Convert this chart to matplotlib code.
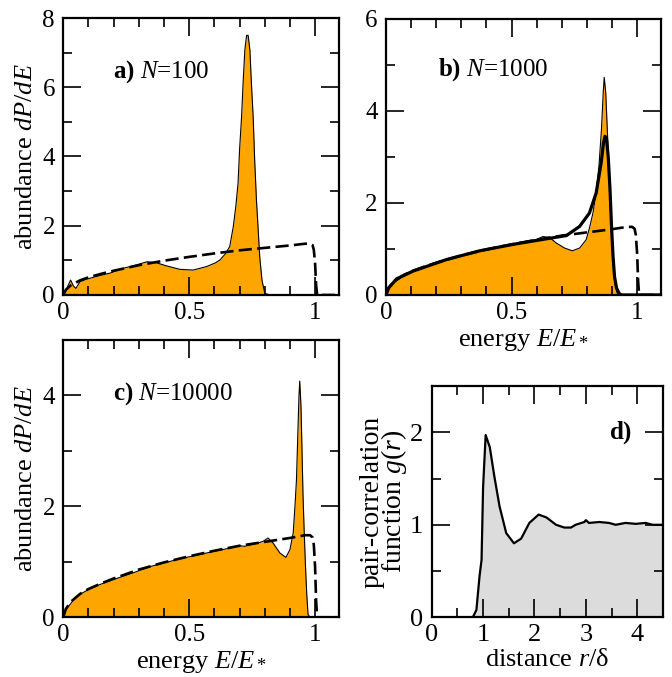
import numpy as np
import matplotlib
matplotlib.use("Agg")
import matplotlib.pyplot as plt
from matplotlib.ticker import MultipleLocator

plt.rcParams['font.family'] = ['Liberation Serif', 'DejaVu Serif']
plt.rcParams['mathtext.fontset'] = 'custom'
plt.rcParams['mathtext.rm'] = 'Liberation Serif'
plt.rcParams['mathtext.it'] = 'Liberation Serif:italic'
plt.rcParams['mathtext.bf'] = 'Liberation Serif:bold'

# theory curve (dashed), same in panels a-c
E_theory = [0, 0.01, 0.03, 0.066, 0.1, 0.15, 0.2, 0.25, 0.3, 0.4, 0.5, 0.6, 0.7,
            0.8, 0.9, 0.96, 0.98, 0.99, 0.995, 1.0, 1.004, 1.008, 1.1]
P_theory = [0, 0.15, 0.28, 0.42, 0.51, 0.61, 0.7, 0.78, 0.86, 0.99, 1.1, 1.2, 1.29,
            1.36, 1.43, 1.48, 1.48, 1.44, 1.3, 0.9, 0.3, 0, 0]

# a) N=100
E_a = [0, 0.01, 0.02, 0.029, 0.04, 0.05, 0.066, 0.09, 0.119, 0.15, 0.185, 0.238,
       0.291, 0.333, 0.37, 0.41, 0.463, 0.516, 0.569, 0.605, 0.622, 0.645, 0.661,
       0.675, 0.685, 0.694, 0.7, 0.708, 0.714, 0.721, 0.728, 0.734, 0.741, 0.747,
       0.754, 0.76, 0.767, 0.774, 0.78, 0.789, 0.8, 0.82, 1.1]
P_a = [0, 0.12, 0.29, 0.43, 0.26, 0.19, 0.38, 0.45, 0.51, 0.57, 0.63, 0.77,
       0.87, 0.96, 0.93, 0.84, 0.74, 0.72, 0.82, 0.93, 1.01, 1.2, 1.4,
       1.97, 2.55, 3.23, 4.19, 5.15, 6.12, 7.08, 7.5, 7.5, 7.08, 6.12,
       5.15, 3.9, 2.75, 1.88, 1.11, 0.43, 0.05, 0, 0]

# b) N=1000
E_b = [0, 0.01, 0.03, 0.066, 0.108, 0.2, 0.3, 0.4, 0.5, 0.6, 0.625, 0.651, 0.678,
       0.711, 0.742, 0.771, 0.797, 0.81, 0.824, 0.836, 0.848, 0.858, 0.865, 0.869,
       0.875, 0.882, 0.889, 0.896, 0.903, 0.91, 0.92, 0.93, 1.1]
P_b = [0, 0.14, 0.26, 0.4, 0.52, 0.7, 0.86, 0.99, 1.1, 1.21, 1.27, 1.25, 1.13,
       1.02, 0.96, 1.02, 1.2, 1.45, 1.78, 2.2, 2.8, 3.6, 4.4, 4.73,
       4.4, 3.5, 2.5, 1.5, 0.8, 0.3, 0.05, 0, 0]
E_b_line = [0, 0.01, 0.042, 0.108, 0.241, 0.373, 0.506, 0.638, 0.718, 0.771, 0.81,
            0.837, 0.857, 0.866, 0.872, 0.878, 0.885, 0.892, 0.898, 0.904, 0.91,
            0.918, 0.93, 0.94, 1.1]
P_b_line = [0, 0.15, 0.35, 0.52, 0.77, 0.96, 1.1, 1.22, 1.29, 1.49, 1.78,
            2.22, 2.88, 3.3, 3.45, 3.4, 3.0, 2.3, 1.5, 0.85, 0.4,
            0.15, 0.02, 0, 0]

# c) N=10000
E_c = [0, 0.005, 0.013, 0.03, 0.053, 0.1, 0.145, 0.2, 0.276, 0.35, 0.408, 0.48,
       0.54, 0.6, 0.675, 0.701, 0.72, 0.76, 0.794, 0.813, 0.833, 0.86, 0.884, 0.9,
       0.913, 0.92, 0.926, 0.932, 0.936, 0.939, 0.944, 0.948, 0.952, 0.957, 0.962,
       0.967, 0.972, 0.98, 1.1]
P_c = [0, 0.08, 0.15, 0.25, 0.38, 0.5, 0.59, 0.68, 0.8, 0.92, 0.99, 1.07,
       1.13, 1.19, 1.26, 1.29, 1.28, 1.32, 1.37, 1.43, 1.34, 1.16, 1.08, 1.22,
       1.52, 2.0, 2.48, 3.4, 4.0, 4.26, 3.8, 3.0, 2.2, 1.5, 0.9,
       0.4, 0.05, 0, 0]

# d) pair correlation
r_d = [0, 0.8, 0.87, 0.93, 0.97, 1.0, 1.05, 1.13, 1.22, 1.32, 1.45, 1.6, 1.74,
       1.9, 2.08, 2.23, 2.42, 2.58, 2.71, 2.8, 2.97, 3.0, 3.06, 3.26, 3.45,
       3.58, 3.77, 3.97, 4.16, 4.3, 4.45, 4.5]
g_d = [0, 0, 0.08, 0.44, 0.62, 1.41, 1.97, 1.84, 1.52, 1.2, 0.91, 0.8, 0.85,
       1.02, 1.11, 1.08, 1.0, 0.97, 0.97, 1.0, 1.03, 1.05, 1.02, 1.03, 1.02,
       1.0, 1.02, 1.01, 1.02, 1.0, 1.0, 1.0]

ORANGE = '#FFA500'
TICK_FS = 18
LABEL_FS = 19
DASH = (0, (5, 2))

fig = plt.figure(figsize=(6.72, 6.77), dpi=100)
ax_a = fig.add_axes([0.0942, 0.5643, 0.4103, 0.4091])
ax_b = fig.add_axes([0.5744, 0.5643, 0.4092, 0.4077])
ax_c = fig.add_axes([0.0942, 0.0882, 0.4103, 0.4096])
ax_d = fig.add_axes([0.6424, 0.0882, 0.3442, 0.3416])


def style(ax, xmaj, xmin, ymaj, ymin, fs=TICK_FS):
    ax.xaxis.set_major_locator(MultipleLocator(xmaj))
    ax.xaxis.set_minor_locator(MultipleLocator(xmin))
    ax.yaxis.set_major_locator(MultipleLocator(ymaj))
    ax.yaxis.set_minor_locator(MultipleLocator(ymin))
    ax.tick_params(which='both', direction='in', top=True, right=True,
                   width=1.2, labelsize=fs)
    ax.tick_params(which='major', length=13)
    ax.tick_params(which='minor', length=6.5)
    ax.tick_params(axis='x', pad=5)
    ax.tick_params(axis='y', pad=6)
    for s in ax.spines.values():
        s.set_linewidth(1.6)


def fmt(v, pos):
    return '%g' % v


for ax in (ax_a, ax_b, ax_c):
    ax.set_xlim(0, 1.095)
    style(ax, 0.5, 0.1, 2, 1)
    ax.xaxis.set_major_formatter(fmt)

# panel a
ax_a.fill_between(E_a, P_a, 0, color=ORANGE, lw=0)
ax_a.plot(E_a, P_a, color='black', lw=0.8)
ax_a.plot(E_theory, P_theory, color='black', lw=1.9, ls=DASH)
ax_a.set_ylim(0, 8)
ax_a.set_ylabel(r'abundance $dP/dE$', fontsize=LABEL_FS, labelpad=4)
ax_a.text(0.18, 0.805, r'$\mathbf{a)}$ $N$=100', transform=ax_a.transAxes,
          fontsize=TICK_FS, va='center', ha='left')

# panel b
ax_b.fill_between(E_b, P_b, 0, color=ORANGE, lw=0)
ax_b.plot(E_b, P_b, color='black', lw=0.8)
ax_b.plot(E_theory, P_theory, color='black', lw=1.9, ls=DASH)
ax_b.plot(E_b_line, P_b_line, color='black', lw=2.3)
ax_b.set_ylim(0, 6)
ax_b.set_xlabel(r'energy $E/E_*$', fontsize=LABEL_FS, labelpad=2)
ax_b.text(0.188, 0.818, r'$\mathbf{b)}$ $N$=1000', transform=ax_b.transAxes,
          fontsize=TICK_FS, va='center', ha='left')

# panel c
ax_c.fill_between(E_c, P_c, 0, color=ORANGE, lw=0)
ax_c.plot(E_c, P_c, color='black', lw=0.8)
ax_c.plot(E_theory, P_theory, color='black', lw=1.9, ls=DASH)
ax_c.set_ylim(0, 5)
ax_c.set_xlabel(r'energy $E/E_*$', fontsize=LABEL_FS, labelpad=2)
ax_c.set_ylabel(r'abundance $dP/dE$', fontsize=LABEL_FS, labelpad=4)
ax_c.text(0.18, 0.808, r'$\mathbf{c)}$ $N$=10000', transform=ax_c.transAxes,
          fontsize=TICK_FS, va='center', ha='left')

# panel d
ax_d.fill_between(r_d, g_d, 0, color='#dcdcdc', lw=0)
ax_d.plot(r_d, g_d, color='black', lw=1.6)
ax_d.set_xlim(0, 4.5)
ax_d.set_ylim(0, 2.5)
style(ax_d, 1, 0.5, 1, 0.5, fs=19)
ax_d.set_xlabel(r'distance $r$/δ', fontsize=LABEL_FS, labelpad=2)
ax_d.set_ylabel('pair-correlation\n' + r'function $g(r)$', fontsize=20,
                labelpad=1, linespacing=0.75)
ax_d.text(3.9, 2.0, r'$\mathbf{d)}$', fontsize=TICK_FS, va='center', ha='right')

fig.savefig('out.png', dpi=100)
